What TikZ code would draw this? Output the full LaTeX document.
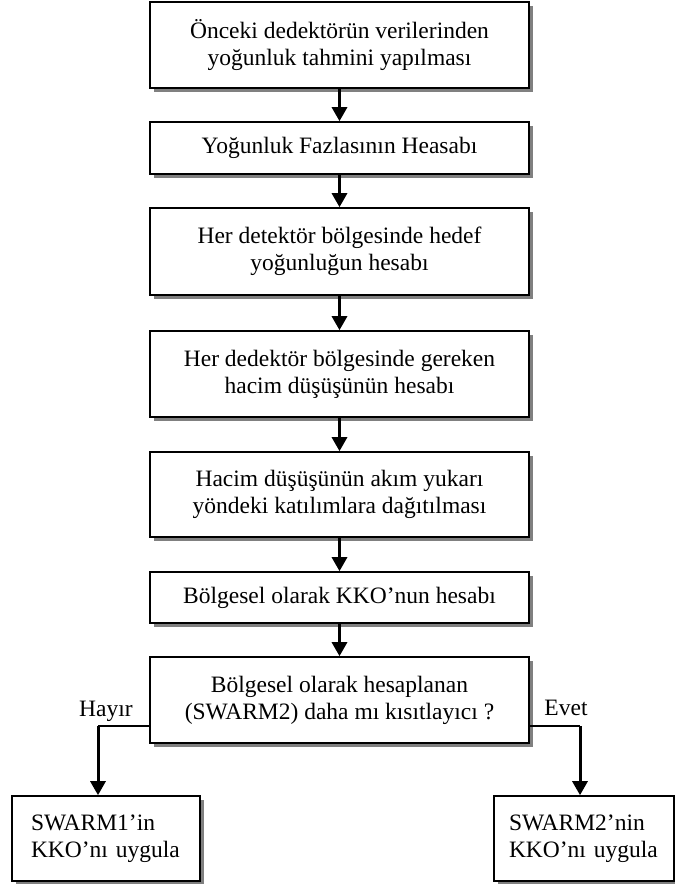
\documentclass[tikz,border=0pt]{standalone}
\usepackage{fontspec}
\setmainfont{Liberation Serif}
\usetikzlibrary{arrows.meta,shadows}

\tikzset{every picture/.style={line width=0.75pt}}
\tikzset{
  flowbox/.style={draw, line width=1.6pt, fill=white, align=center, inner sep=0pt,
    minimum width=379pt, font=\fontsize{23.5}{27}\selectfont,
    drop shadow={shadow xshift=4pt, shadow yshift=-4pt, fill={rgb, 255:red, 128; green, 128; blue, 128}, opacity=1}},
  endbox/.style={flowbox, align=left, text width=150pt},
  flowarrow/.style={line width=3pt, -{Triangle[length=14pt,width=15pt]}},
  branchlabel/.style={anchor=base, inner sep=0pt, font=\fontsize{23.5}{27}\selectfont},
}

\begin{document}
\begin{tikzpicture}[x=1pt,y=1pt,yscale=-1,xscale=1]
\path[use as bounding box] (0,0) rectangle (675,884); %set diagram size as the reference

%Rect [tahmin]
\node[flowbox, minimum height=86pt] (tahmin) at (339.5,45) {Önceki dedektörün verilerinden\\yoğunluk tahmini yapılması};
%Rect [fazla]
\node[flowbox, minimum height=52pt] (fazla) at (339.5,148) {Yoğunluk Fazlasının Heasabı};
%Rect [hedef]
\node[flowbox, minimum height=87pt] (hedef) at (339.5,251.5) {Her detektör bölgesinde hedef\\yoğunluğun hesabı};
%Rect [dusus]
\node[flowbox, minimum height=86pt] (dusus) at (339.5,374) {Her dedektör bölgesinde gereken\\hacim düşüşünün hesabı};
%Rect [dagitim]
\node[flowbox, minimum height=85pt] (dagitim) at (339.5,494.5) {Hacim düşüşünün akım yukarı\\yöndeki katılımlara dağıtılması};
%Rect [kko]
\node[flowbox, minimum height=51pt] (kko) at (339.5,597.5) {Bölgesel olarak KKO’nun hesabı};
%Rect [karar]
\node[flowbox, minimum height=86pt] (karar) at (339.5,700) {Bölgesel olarak hesaplanan\\(SWARM2) daha mı kısıtlayıcı ?};
%Rect [swarmbir]
\node[endbox, minimum width=188pt, minimum height=85pt] (swarmbir) at (106,838.5) {SWARM1’in\\KKO’nı uygula};
%Rect [swarmiki]
\node[endbox, minimum width=180pt, minimum height=85pt] (swarmiki) at (584,838.5) {SWARM2’nin\\KKO’nı uygula};

%Straight Arrows
\draw[flowarrow] (tahmin.south) -- (fazla.north);
\draw[flowarrow] (fazla.south) -- (hedef.north);
\draw[flowarrow] (hedef.south) -- (dusus.north);
\draw[flowarrow] (dusus.south) -- (dagitim.north);
\draw[flowarrow] (dagitim.south) -- (kko.north);
\draw[flowarrow] (kko.south) -- (karar.north);

%Branch Lines
\coordinate (hayirkose) at (98,726);
\coordinate (evetkose) at (580,726);
\draw[line width=1.3pt] (karar.west |- hayirkose) -- (hayirkose);
\draw[flowarrow] (hayirkose) -- (hayirkose |- swarmbir.north);
\draw[line width=1.3pt] (karar.east |- evetkose) -- (evetkose);
\draw[flowarrow] (evetkose) -- (evetkose |- swarmiki.north);

% Text Node
\node[branchlabel] (hayir) at (106,716) {Hayır};
% Text Node
\node[branchlabel] (evet) at (566,715) {Evet};

\end{tikzpicture}
\end{document}
